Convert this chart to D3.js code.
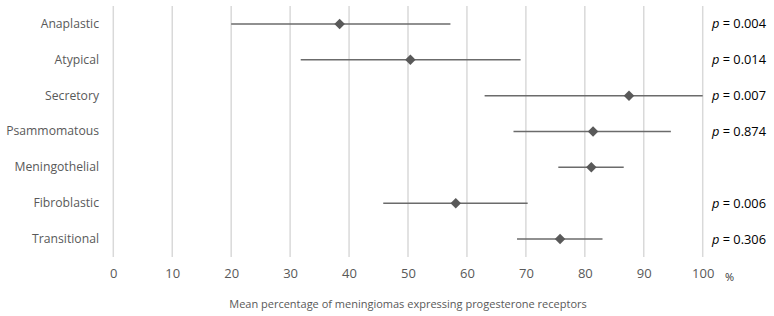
<!DOCTYPE html>
<html>
<head>
<meta charset="utf-8">
<script src="https://cdn.jsdelivr.net/npm/d3@7"></script>
<style>
  body { margin: 0; background: #fff; }
  text { font-family: "Open Sans", "Noto Sans", sans-serif; }
</style>
</head>
<body>
<svg id="chart" width="774" height="316"></svg>
<script>
// values
var categories = ["Anaplastic", "Atypical", "Secretory", "Psammomatous", "Meningothelial", "Fibroblastic", "Transitional"];
var means = [38.4, 50.4, 87.5, 81.4, 81.1, 58.1, 75.8];
var lower = [20.0, 31.8, 63.0, 67.9, 75.5, 45.8, 68.5];
var upper = [57.2, 69.1, 100, 94.6, 86.6, 70.3, 83.0];
var pValues = ["0.004", "0.014", "0.007", "0.874", null, "0.006", "0.306"];
var xTicks = [0, 10, 20, 30, 40, 50, 60, 70, 80, 90, 100];

var rows = categories.map(function (c, i) {
  return { name: c, mean: means[i], lo: lower[i], hi: upper[i], p: pValues[i] };
});

var svg = d3.select("#chart");
var x = d3.scaleLinear().domain([0, 100]).range([113.3, 702.7]);
var y = d3.scaleBand().domain(categories).range([6, 257]);

// vertical gridlines
svg.append("g")
  .selectAll("line")
  .data(xTicks)
  .join("line")
  .attr("x1", function (d) { return x(d); })
  .attr("x2", function (d) { return x(d); })
  .attr("y1", 6)
  .attr("y2", 257)
  .attr("stroke", "#d9d9d9")
  .attr("stroke-width", 1.5);

// x axis tick labels
var xAxis = d3.axisBottom(x).tickValues(xTicks).tickSize(0).tickPadding(0);
var gx = svg.append("g").attr("transform", "translate(0,269)").call(xAxis);
gx.select(".domain").remove();
gx.selectAll("text")
  .attr("dy", "0.71em")
  .attr("fill", "#595959")
  .style("font-size", "13px")
  .style("font-family", "'Open Sans', sans-serif");

svg.append("text")
  .attr("x", 725)
  .attr("y", 281)
  .attr("fill", "#333")
  .style("font-size", "11px")
  .text("%");

// category labels
var yAxis = d3.axisLeft(y).tickSize(0).tickPadding(0);
var gy = svg.append("g").attr("transform", "translate(99,0)").call(yAxis);
gy.select(".domain").remove();
gy.selectAll("text")
  .attr("fill", "#595959")
  .style("font-size", "12.2px")
  .style("font-family", "'Open Sans', sans-serif");

// error bars
var g = svg.append("g");
g.selectAll("line.err")
  .data(rows)
  .join("line")
  .attr("class", "err")
  .attr("x1", function (d) { return x(d.lo); })
  .attr("x2", function (d) { return x(d.hi); })
  .attr("y1", function (d) { return y(d.name) + y.bandwidth() / 2; })
  .attr("y2", function (d) { return y(d.name) + y.bandwidth() / 2; })
  .attr("stroke", "#6b6b6b")
  .attr("stroke-width", 1.5);

// diamond markers
g.selectAll("path.pt")
  .data(rows)
  .join("path")
  .attr("class", "pt")
  .attr("d", d3.symbol().type(d3.symbolDiamond2).size(70))
  .attr("transform", function (d) {
    return "translate(" + x(d.mean) + "," + (y(d.name) + y.bandwidth() / 2) + ")";
  })
  .attr("fill", "#595959");

// p-values
var pt = svg.append("g").selectAll("text")
  .data(rows.filter(function (d) { return d.p !== null; }))
  .join("text")
  .attr("x", 766)
  .attr("y", function (d) { return y(d.name) + y.bandwidth() / 2; })
  .attr("dy", "0.35em")
  .attr("text-anchor", "end")
  .attr("fill", "#000")
  .style("font-size", "12.8px")
  .style("font-family", "'Open Sans', sans-serif");
pt.append("tspan").style("font-style", "italic").text("p");
pt.append("tspan").text(function (d) { return " = " + d.p; });

// axis title
svg.append("text")
  .attr("x", x(50))
  .attr("y", 308)
  .attr("text-anchor", "middle")
  .attr("fill", "#595959")
  .style("font-size", "11px")
  .text("Mean percentage of meningiomas expressing progesterone receptors");
</script>
</body>
</html>
